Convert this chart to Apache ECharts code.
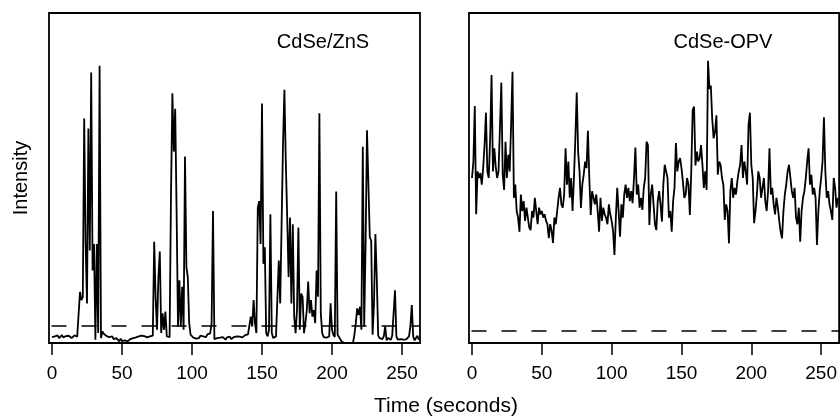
<!DOCTYPE html>
<html><head><meta charset="utf-8">
<script src="https://cdn.jsdelivr.net/npm/echarts@6/dist/echarts.min.js"></script>
<style>html,body{margin:0;padding:0;background:#fff}#c{width:840px;height:417px}</style>
</head><body><div id="c"></div>
<script>
// x tick labels (seconds)
const xTicks = [0, 50, 100, 150, 200, 250];
const panelTitles = ['CdSe/ZnS', 'CdSe-OPV'];
const xTitle = 'Time (seconds)';
const yTitle = 'Intensity';
// sample spacing (seconds)
const dt = 1;
// CdSe/ZnS intensity trace, one value per second from t=0 (arbitrary units)
const cdseZnS = [
1.8,1.4,2.0,1.6,2.3,1.5,1.9,2.4,1.7,1.3,2.1,1.6,2.2,1.8,1.5,2.0,2.3,1.7,1.9,2.2,
15.5,13,14,68,30,12,65,28,82,22,30,1,30,3,84,1.5,3.5,2.8,3.2,2.1,
2.5,1.8,2.2,2.0,1.2,0.8,1.5,1.0,0.5,1.3,
0.6,0.4,0.8,0.3,0.5,0.9,1.2,0.8,1.5,1.1,1.7,1.3,2.0,1.6,2.2,1.8,2.1,2.5,1.7,2.3,2.0,2.6,2.2,
30.7,14,4,20,27.7,3,9,4,9.5,2,1.5,1.8,45,75.7,58,71,40,5,19,5,17,4,56.5,23,20,6,2.5,
2.0,1.6,1.8,1.3,1.9,1.5,2.2,1.7,2.0,2.4,1.8,2.6,2.2,2.9,
6,40,
1.2,0.6,1.5,0.9,1.6,1.1,1.8,1.3,1.0,1.7,1.4,1.9,1.2,1.6,1.8,1.4,2.0,1.5,1.9,2.2,1.7,2.1,2.4,1.9,2.6,2.3,
8,5,13,6,3,41,43,30,72.6,24,29,3,2,4,39,3,1.5,1.2,2.0,1.6,
25,12,36,60,76.7,55,38,20,38,12,36,8,3,10,35,4,15,14,3,6,10,18.6,9,13,8,10,6,22,14,69.6,9,3,
1.8,1.2,1.6,1.3,2.0,12,4,2.5,1.8,45.9,2.5,1.8,1.2,0.4,
0,0,0,0,0,0,0,0,
2.5,6,10.5,8.5,11,4,59.5,5,30,64.5,65,32,31,2.5,12,33,19.5,2.2,
1.5,1.7,1.2,2.0,5,0.8,1.5,1.9,1.0,2.2,9,16,2,1.0,0.8,1.2,0.9,1.0,0.7,1.1,1.4,2.0,5,11.5,2,0.8,1.5,2.2,1.0
];
// CdSe-OPV intensity trace, one value per second from t=0 (arbitrary units)
const cdseOPV = [
50,55,71.8,39,52,50,51.5,48,53,60,
69.8,52,50,62,81.2,52,59,53.4,50,52,
65,78.9,51,46.4,61,50,57,52,66,82.2,
44,48,40,38,33.7,45,40,43,37,41,
38,35,34.2,40,38,44,44,36,41,39,
40,38,39,37,36,31.8,36,34,30.3,38,
36,40,44,47,42,41,45,59,48,55,
44,50,40,50,62,75.9,58,52,40.9,48,
51,55,53,64.3,50,38.8,46,44,42,45,
40,33.7,44,37,41,39,38,36,42,39,
37,34,26.7,38,47,40,32.2,42,38,45,
48,44,47,43,46,42.4,50,59.2,45,48,
41,44,40.3,47,50,61,60,35.8,45,48,
42,36,34.2,43,46,42,36.8,48,54,52,
50,38,40,33.7,43,47,60.6,52,55,56,
53,49,44,45,50,48,38.8,52,70.6,71.6,
53.8,58,55,56,60,54,47,52,46.4,85.5,
77,78,68,62,64,69,51,55,54,50,
48,37.3,42,40,30.2,46,50,44,47,45,
49,52,54,60,50,55,52,48,66,69.8,
54,50,36.3,40,45,52,50,44,47,50,
43,40,46,59,45,47,42,39,44,41,
37,33.7,31.7,40,45,48,52,54,50,46,
44,47,38,36,41,30.7,40,44,46,50,
55,59,48,51,45,47,44,29.7,40,46,
50,55,68.4,52,44,46,42,40,37.3,50,
47,41,44
];
// background (dashed) levels
const backgroundLevels = [5.3, 3.85];

const toPairs = a => a.map((v, i) => [i * dt, v]);
const FONT = 'Liberation Sans, Arial, Helvetica, sans-serif';

const chart = echarts.init(document.getElementById('c'), null, {renderer: 'canvas'});

function makeX(gi) {
  return {
    type: 'value', gridIndex: gi, min: -2.14, max: 262.86,
    axisLine: {show: false},
    splitLine: {show: false},
    axisTick: {show: true, inside: false, length: 12, customValues: xTicks, lineStyle: {color: '#000', width: 1.5}},
    axisLabel: {customValues: xTicks, margin: 21, color: '#000', fontSize: 19, fontFamily: FONT}
  };
}
function makeY(gi) {
  return {
    type: 'value', gridIndex: gi, min: 0, max: 100,
    axisLine: {show: false}, axisTick: {show: false}, axisLabel: {show: false}, splitLine: {show: false}
  };
}
function makeSeries(gi, data, level) {
  return {
    type: 'line', xAxisIndex: gi, yAxisIndex: gi, data: toPairs(data),
    showSymbol: false, symbol: 'none', animation: false,
    lineStyle: {color: '#000', width: 1.8},
    markLine: {
      silent: true, symbol: 'none', animation: false,
      label: {show: false},
      lineStyle: {color: '#000', width: 1.6, type: [15, 15], dashOffset: 27.5},
      data: [{yAxis: level}]
    }
  };
}

chart.setOption({
  animation: false,
  backgroundColor: '#fff',
  grid: [
    {left: 49, top: 13, width: 371, height: 330, show: true, borderColor: '#000', borderWidth: 1.8, backgroundColor: 'transparent'},
    {left: 469, top: 13, width: 371, height: 330, show: true, borderColor: '#000', borderWidth: 1.8, backgroundColor: 'transparent'}
  ],
  xAxis: [makeX(0), makeX(1)],
  yAxis: [makeY(0), makeY(1)],
  series: [makeSeries(0, cdseZnS, backgroundLevels[0]), makeSeries(1, cdseOPV, backgroundLevels[1])],
  graphic: [
    {type: 'text', x: 323, y: 42, style: {text: panelTitles[0], fontSize: 20, fontFamily: FONT, fill: '#000', align: 'center', verticalAlign: 'middle'}},
    {type: 'text', x: 723, y: 42, style: {text: panelTitles[1], fontSize: 20, fontFamily: FONT, fill: '#000', align: 'center', verticalAlign: 'middle'}},
    {type: 'text', x: 446, y: 406, style: {text: xTitle, fontSize: 21, fontFamily: FONT, fill: '#000', align: 'center', verticalAlign: 'middle'}},
    {type: 'text', x: 21, y: 178, rotation: Math.PI / 2, style: {text: yTitle, fontSize: 20, fontFamily: FONT, fill: '#000', align: 'center', verticalAlign: 'middle'}}
  ]
});
</script>
</body></html>
